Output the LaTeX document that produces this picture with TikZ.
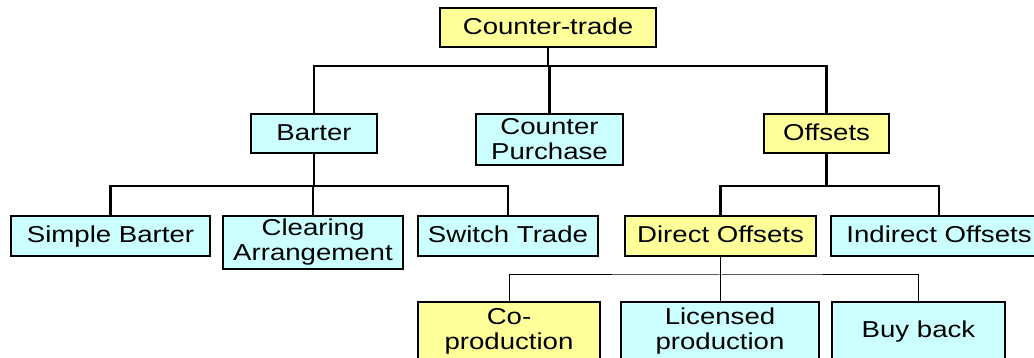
\documentclass[tikz,border=0pt]{standalone}
\usepackage{fontspec}
\setmainfont{Liberation Sans}[FakeStretch=1.2]
\definecolor{cy}{HTML}{CCFFFF}
\definecolor{yl}{HTML}{FFFF99}
\tikzset{
  box/.style={draw=black, line width=2.6pt, inner sep=0pt, outer sep=0pt, align=center,
    font=\fontsize{23}{25}\selectfont, text=black},
  one/.style={text height=16.5pt, text depth=3pt},
  cbox/.style={box, fill=cy},
  ybox/.style={box, fill=yl},
  tree/.style={line width=2.6pt, draw=black},
  stem/.style={line width=1.8pt, draw=black},
  thin/.style={line width=1pt, draw=black}
}
\begin{document}
\begin{tikzpicture}[x=1pt,y=-1pt]
\clip (0,0) rectangle (1034,358);
\fill[white] (0,0) rectangle (1034,358);
% nodes
\node[ybox, one, minimum width=216, minimum height=39] (ct) at (548,27.5) {Counter-trade};
\node[cbox, one, minimum width=126, minimum height=39] (barter) at (314,133.5) {Barter};
\node[cbox, minimum width=147, minimum height=51] (cp) at (549.5,139.5) {Counter\\Purchase};
\node[ybox, one, minimum width=125, minimum height=39] (off) at (826.5,133.5) {Offsets};
\node[cbox, one, minimum width=199, minimum height=40] (sb) at (110.5,236) {Simple Barter};
\node[cbox, minimum width=180, minimum height=53] (ca) at (313,242.5) {Clearing\\Arrangement};
\node[cbox, one, minimum width=180, minimum height=40] (st) at (508,236) {Switch Trade};
\node[ybox, one, minimum width=191, minimum height=40] (do) at (720.5,236) {Direct Offsets};
\node[cbox, one, minimum width=216, minimum height=40] (io) at (939,236) {Indirect Offsets};
\node[ybox, minimum width=182, minimum height=58] (cop) at (509,331) {Co-\\production};
\node[cbox, minimum width=198, minimum height=58] (lic) at (720,331) {Licensed\\production};
\node[cbox, one, minimum width=173, minimum height=58] (bb) at (918.5,331) {Buy back};
% bus points
\coordinate (b1) at (548,66);
\coordinate (b2) at (314,186);
\coordinate (b3) at (826.5,186);
\coordinate (b4) at (720.5,275);
% connectors
\draw[tree] (ct.south) -- (b1);
\draw[tree] (barter.north) |- (b1) -| (off.north);
\draw[tree] (cp.north) -- (cp.north |- b1);
\draw[tree] (barter.south) -- (b2);
\draw[tree] (sb.north) |- (b2) -| (st.north);
\draw[tree] (ca.north) -- (ca.north |- b2);
\draw[tree] (off.south) -- (b3);
\draw[tree] (do.north) |- (b3) -| (io.north);
\draw[stem] (do.south) -- (b4);
\draw[thin] (cop.north) |- (b4) -| (bb.north);
\draw[thin] (lic.north) -- (lic.north |- b4);
\end{tikzpicture}
\end{document}
